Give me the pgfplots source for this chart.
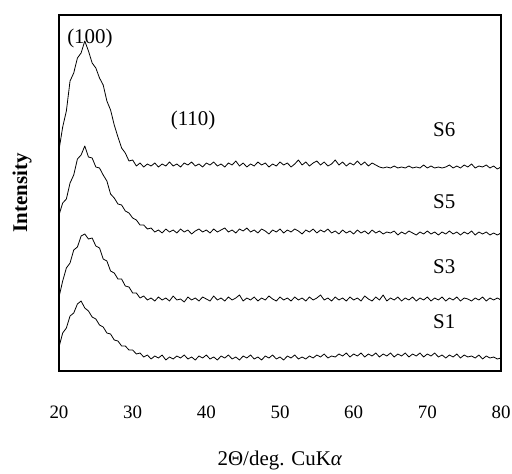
\documentclass[border=0pt]{standalone}
\usepackage{pgfplots}
\pgfplotsset{compat=1.18}
\usepackage{pgfplotstable}
\usepackage{fontspec}
\setmainfont{Liberation Serif}
\pgfplotstableread{
x s1 s3 s5 s6
20.0 24 74 156 221
20.5 38 90 168 244
21.0 43 103 172 260
21.5 55 108 188 290
22.0 58 121 196 298
22.5 67 124 212 313
23.0 70 135 216 318
23.5 63 137 225 330
24.0 60 132 214 320
24.5 54 133 213 308
25.0 52 125 204 303
25.5 46 123 203 293
26.0 44 112 196 286
26.5 38 110 190 270
27.0 37 100 177 261
27.5 31 98 173 246
28.0 30 92 167 234
28.5 25 92 166 223
29.0 25 85 160 218
29.5 21 84 158 210
30.0 21 78 153 211
30.5 17 78 151 205
31.0 18 73 146 208
31.5 14 75 146 204
32.0 16 71 142 207
32.5 12 73 143 205
33.0 15 70 139 208
33.5 13 74 141 204
34.0 16 71 138 207
34.5 11 73 142 205
35.0 14 70 139 209
35.5 12 75 141 205
36.0 15 71 138 207
36.5 13 72 142 204
37.0 16 69 139 208
37.5 12 74 141 206
38.0 14 71 137 209
38.5 11 73 140 205
39.0 15 70 142 207
39.5 13 74 139 204
40.0 16 72 141 208
40.5 12 70 138 206
41.0 14 75 142 209
41.5 11 71 139 205
42.0 15 73 141 207
42.5 13 70 143 204
43.0 16 74 139 208
43.5 12 71 141 206
44.0 14 73 138 210
44.5 11 76 142 205
45.0 15 70 140 208
45.5 13 73 143 204
46.0 16 71 139 207
46.5 12 74 141 205
47.0 14 70 138 209
47.5 11 73 142 206
48.0 15 71 140 208
48.5 13 75 137 204
49.0 16 72 141 207
49.5 12 70 139 205
50.0 14 74 142 209
50.5 11 71 138 206
51.0 15 73 141 208
51.5 13 70 139 204
52.0 16 74 142 207
52.5 12 71 140 211
53.0 14 73 137 206
53.5 12 70 141 209
54.0 15 74 139 205
54.5 13 71 142 208
55.0 16 73 138 210
55.5 14 76 141 206
56.0 17 71 139 209
56.5 13 73 142 205
57.0 15 70 138 207
57.5 14 74 140 211
58.0 17 71 137 206
58.5 15 73 141 209
59.0 18 70 138 205
59.5 14 74 140 208
60.0 17 71 137 206
60.5 15 73 141 210
61.0 18 70 138 206
61.5 14 75 140 209
62.0 17 72 137 205
62.5 15 70 141 208
63.0 18 74 138 206
63.5 14 71 140 204
64.0 17 76 137 203
64.5 15 70 139 204
65.0 18 73 138 203
65.5 14 71 140 205
66.0 17 74 136 203
66.5 15 70 139 204
67.0 18 73 137 203
67.5 14 71 140 205
68.0 17 74 138 203
68.5 15 70 136 204
69.0 18 73 139 203
69.5 14 71 137 206
70.0 17 74 140 203
70.5 15 70 137 205
71.0 18 73 139 203
71.5 14 71 136 204
72.0 16 74 139 203
72.5 13 70 137 204
73.0 16 73 140 206
73.5 14 71 137 203
74.0 17 74 139 205
74.5 13 70 136 203
75.0 16 73 139 206
75.5 14 72 137 204
76.0 15 70 140 207
76.5 13 73 136 203
77.0 16 71 139 205
77.5 12 74 137 204
78.0 15 70 139 206
78.5 13 73 136 203
79.0 14 71 138 205
79.5 12 73 136 202
80.0 13 71 138 204
}\xrd
\begin{document}
\begin{tikzpicture}
\begin{axis}[
  name=ax,
  scale only axis,
  width=442bp, height=356bp,
  xmin=20, xmax=80, ymin=0, ymax=356,
  xtick={20,30,...,80},
  ytick=\empty,
  major tick length=0pt,
  axis line style={line width=1.1bp},
  /pgf/number format/assume math mode=true,
  xticklabel style={font=\fontsize{19}{21}\selectfont, anchor=center, yshift=-41bp},
  xlabel={2Θ/deg. CuK\textit{α}},
  xlabel style={font=\fontsize{21}{23}\selectfont, at={(axis description cs:0.5,0)}, anchor=center, yshift=-89bp},
  clip=false,
]
\addplot[black, no markers, line width=0.8bp, line join=round] table[x=x, y=s1] {\xrd};
\addplot[black, no markers, line width=0.8bp, line join=round] table[x=x, y=s3] {\xrd};
\addplot[black, no markers, line width=0.8bp, line join=round] table[x=x, y=s5] {\xrd};
\addplot[black, no markers, line width=0.8bp, line join=round] table[x=x, y=s6] {\xrd};
\node[font=\fontsize{21}{23}\selectfont] at (axis cs:24.2,333) {(100)};
\node[font=\fontsize{21}{23}\selectfont] at (axis cs:38.2,251) {(110)};
\node[font=\fontsize{21}{23}\selectfont] at (axis cs:72.3,241) {S6};
\node[font=\fontsize{21}{23}\selectfont] at (axis cs:72.3,169) {S5};
\node[font=\fontsize{21}{23}\selectfont] at (axis cs:72.3,104) {S3};
\node[font=\fontsize{21}{23}\selectfont] at (axis cs:72.3,49) {S1};
\end{axis}
\node[rotate=90, font=\fontsize{21}{23}\selectfont\bfseries] at ([xshift=-37bp]ax.west) {Intensity};
\pgfresetboundingbox
\path[use as bounding box] ([shift={(-59bp,-103bp)}]ax.south west) rectangle ([shift={(11bp,15bp)}]ax.north east);
\end{tikzpicture}
\end{document}
